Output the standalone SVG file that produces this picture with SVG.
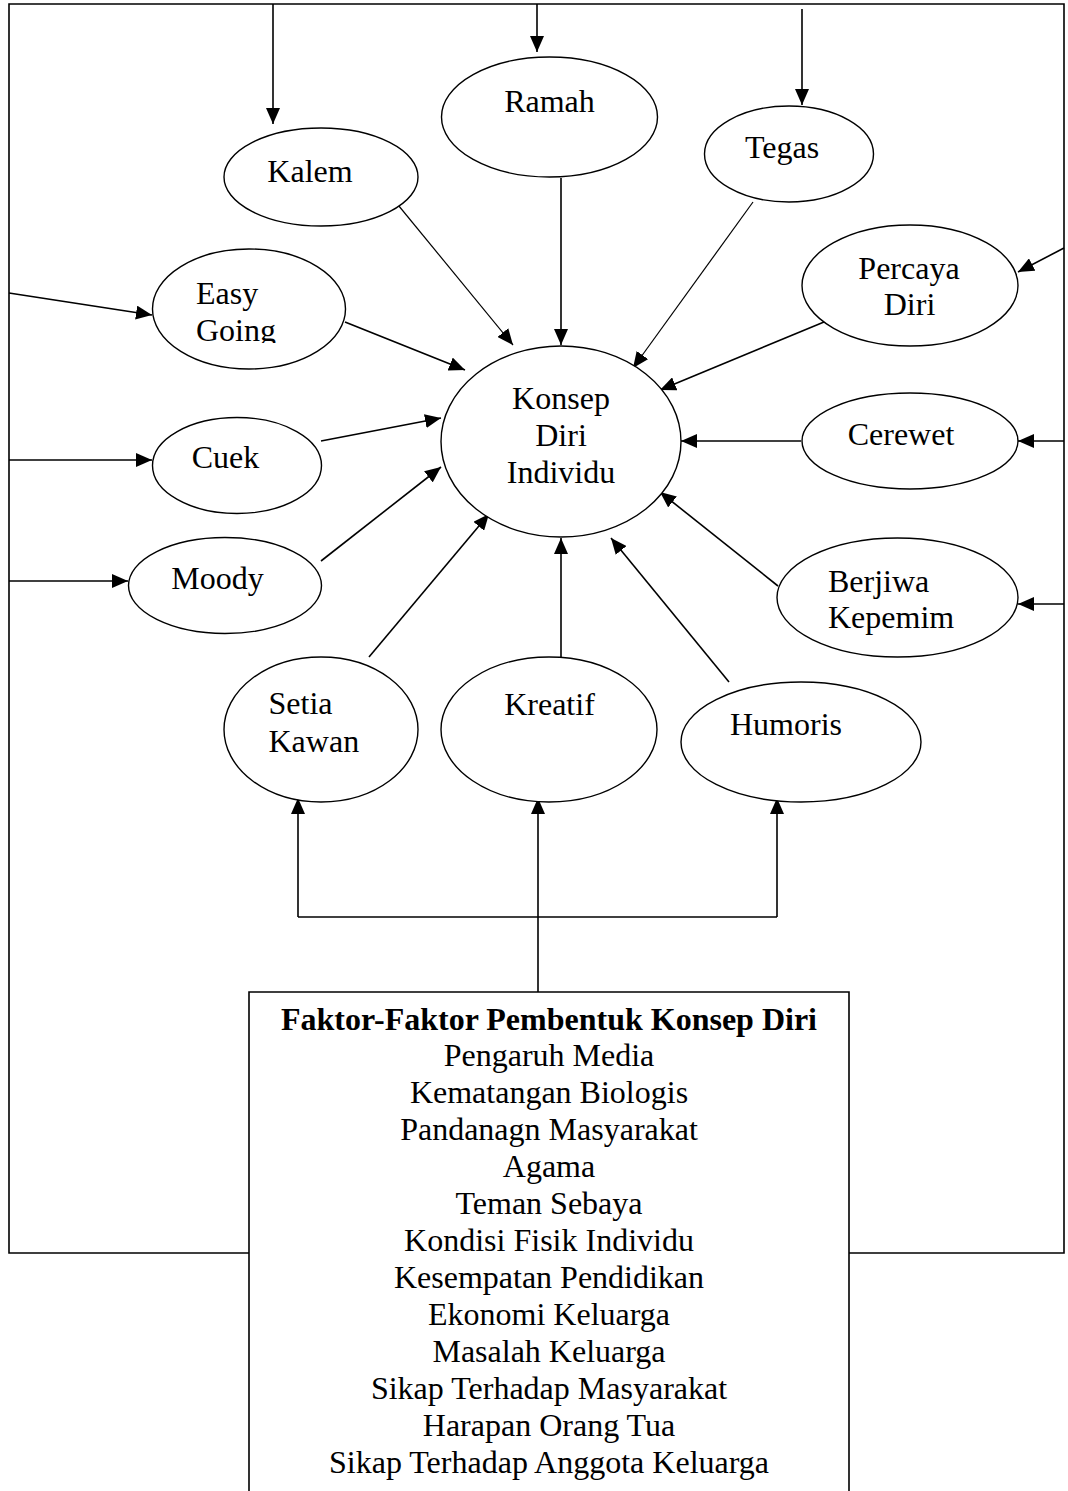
<svg xmlns="http://www.w3.org/2000/svg" width="1068" height="1491" viewBox="0 0 1068 1491">
<style>
.n{fill:#fff;stroke:#000;stroke-width:1.4}
.t{font-family:"Liberation Serif","Times New Roman",serif;font-size:32px;fill:#000}
.m{text-anchor:middle}
.c{fill:none;stroke:#000;stroke-width:1.6}
.a{marker-end:url(#ah)}
</style>
<defs>
<marker id="ah" markerUnits="userSpaceOnUse" markerWidth="16" markerHeight="14" refX="16" refY="7" orient="auto">
<path d="M0,0 L16,7 L0,14 z" fill="#000"/>
</marker>
<clipPath id="goingClip"><rect x="150" y="250" width="200" height="93"/></clipPath>
</defs>
<rect width="1068" height="1491" fill="#fff"/>
<g id="connectors">
<path class="c" d="M249,1253 H9 V4 H1064 V1253 H849"/>
<line class="c a" x1="273" y1="4" x2="273" y2="124"/>
<line class="c a" x1="537" y1="4" x2="537" y2="52"/>
<line class="c a" x1="802" y1="9" x2="802" y2="105"/>
<line class="c a" x1="1064" y1="248" x2="1018" y2="272"/>
<line class="c a" x1="1064" y1="441" x2="1018" y2="441"/>
<line class="c a" x1="1064" y1="604" x2="1018" y2="604"/>
<line class="c a" x1="9" y1="293" x2="152" y2="315"/>
<line class="c a" x1="9" y1="460" x2="152" y2="460"/>
<line class="c a" x1="9" y1="581" x2="128" y2="581"/>
<line class="c a" x1="394" y1="200" x2="513" y2="345" style="stroke-width:1.2"/>
<line class="c a" x1="561" y1="178" x2="561" y2="345"/>
<line class="c a" x1="753" y1="202" x2="633" y2="368" style="stroke-width:1.2"/>
<line class="c a" x1="824" y1="322" x2="660" y2="390"/>
<line class="c a" x1="801" y1="441" x2="681" y2="441"/>
<line class="c a" x1="778" y1="586" x2="660" y2="492"/>
<line class="c a" x1="729" y1="682" x2="611" y2="538"/>
<line class="c a" x1="561" y1="657" x2="561" y2="538"/>
<line class="c a" x1="369" y1="657" x2="489" y2="514"/>
<line class="c a" x1="321" y1="561" x2="441" y2="467"/>
<line class="c a" x1="321" y1="441" x2="441" y2="418"/>
<line class="c a" x1="345" y1="322" x2="465" y2="370"/>
<line class="c" x1="538" y1="992" x2="538" y2="917"/>
<line class="c" x1="298" y1="917" x2="777" y2="917"/>
<line class="c a" x1="298" y1="917" x2="298" y2="798"/>
<line class="c a" x1="538" y1="917" x2="538" y2="798"/>
<line class="c a" x1="777" y1="917" x2="777" y2="798"/>
</g>
<g id="konsep"><ellipse class="n" cx="561" cy="441.5" rx="120" ry="95.5"/>
<text class="t m" x="561" y="409">Konsep</text><text class="t m" x="561" y="446">Diri</text><text class="t m" x="561" y="483">Individu</text></g>
<g id="kalem"><ellipse class="n" cx="321" cy="177" rx="97" ry="49"/><text class="t m" x="310" y="182">Kalem</text></g>
<g id="ramah"><ellipse class="n" cx="549.5" cy="117" rx="108" ry="60"/><text class="t m" x="549.5" y="112">Ramah</text></g>
<g id="tegas"><ellipse class="n" cx="789" cy="154" rx="84.5" ry="48"/><text class="t m" x="782" y="158">Tegas</text></g>
<g id="percaya"><ellipse class="n" cx="910" cy="285.5" rx="108" ry="60.5"/><text class="t m" x="909" y="279">Percaya</text><text class="t m" x="909.5" y="315">Diri</text></g>
<g id="cerewet"><ellipse class="n" cx="910" cy="441" rx="108" ry="48"/><text class="t m" x="901" y="445">Cerewet</text></g>
<g id="berjiwa"><ellipse class="n" cx="897.5" cy="597.5" rx="120.5" ry="59.5"/><text class="t" x="828" y="592">Berjiwa</text><text class="t" x="828" y="628">Kepemim</text></g>
<g id="humoris"><ellipse class="n" cx="801" cy="742" rx="120" ry="60"/><text class="t m" x="786" y="735">Humoris</text></g>
<g id="kreatif"><ellipse class="n" cx="549" cy="729.5" rx="108" ry="72.5"/><text class="t m" x="549.5" y="715">Kreatif</text></g>
<g id="setia"><ellipse class="n" cx="321" cy="729.5" rx="97" ry="72.5"/><text class="t" x="268.5" y="714">Setia</text><text class="t" x="268.5" y="752">Kawan</text></g>
<g id="moody"><ellipse class="n" cx="225" cy="585.5" rx="96.5" ry="48"/><text class="t m" x="217.5" y="589">Moody</text></g>
<g id="cuek"><ellipse class="n" cx="237" cy="465.5" rx="84.5" ry="48"/><text class="t m" x="225.5" y="468">Cuek</text></g>
<g id="easygoing"><ellipse class="n" cx="249" cy="309" rx="96.5" ry="60"/><text class="t" x="196" y="304">Easy</text><text class="t" x="196" y="341" clip-path="url(#goingClip)">Going</text></g>
<g id="faktor">
<path d="M249,1491 V992 H849 V1491" fill="#fff" stroke="#000" stroke-width="1.6"/>
<text class="t m" x="549" y="1030" font-weight="bold">Faktor-Faktor Pembentuk Konsep Diri</text>
<text class="t m" x="549" y="1066">Pengaruh Media</text>
<text class="t m" x="549" y="1103">Kematangan Biologis</text>
<text class="t m" x="549" y="1140">Pandanagn Masyarakat</text>
<text class="t m" x="549" y="1177">Agama</text>
<text class="t m" x="549" y="1214">Teman Sebaya</text>
<text class="t m" x="549" y="1251">Kondisi Fisik Individu</text>
<text class="t m" x="549" y="1288">Kesempatan Pendidikan</text>
<text class="t m" x="549" y="1325">Ekonomi Keluarga</text>
<text class="t m" x="549" y="1362">Masalah Keluarga</text>
<text class="t m" x="549" y="1399">Sikap Terhadap Masyarakat</text>
<text class="t m" x="549" y="1436">Harapan Orang Tua</text>
<text class="t m" x="549" y="1473">Sikap Terhadap Anggota Keluarga</text>
</g>
</svg>
